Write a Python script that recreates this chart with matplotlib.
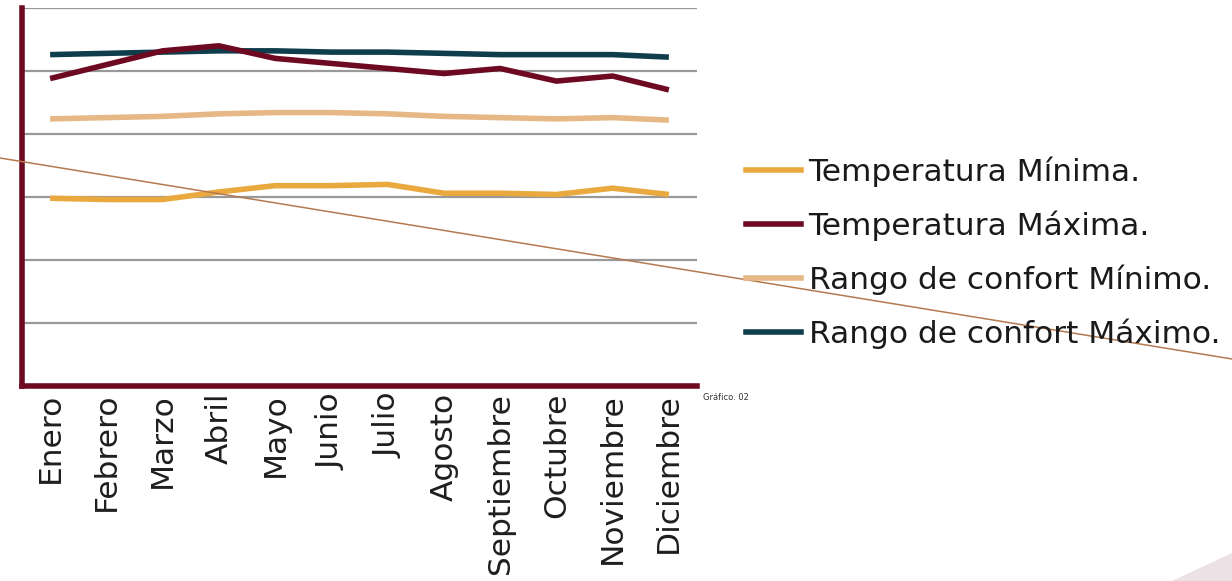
import matplotlib
matplotlib.use('Agg')
import matplotlib.pyplot as plt
from matplotlib.lines import Line2D
from matplotlib.patches import Polygon

meses = ['Enero', 'Febrero', 'Marzo', 'Abril', 'Mayo', 'Junio', 'Julio',
         'Agosto', 'Septiembre', 'Octubre', 'Noviembre', 'Diciembre']
temp_min = [14.9, 14.8, 14.8, 15.4, 15.9, 15.9, 16.0, 15.3, 15.3, 15.2, 15.7, 15.2]
temp_max = [24.4, 25.5, 26.6, 27.0, 26.0, 25.6, 25.2, 24.8, 25.2, 24.2, 24.6, 23.5]
confort_min = [21.2, 21.3, 21.4, 21.6, 21.7, 21.7, 21.6, 21.4, 21.3, 21.2, 21.3, 21.1]
confort_max = [26.3, 26.4, 26.5, 26.6, 26.6, 26.5, 26.5, 26.4, 26.3, 26.3, 26.3, 26.1]

W, H = 1232, 581
plt.rcParams['font.family'] = ['DejaVu Sans']
fig = plt.figure(figsize=(W / 100, H / 100), dpi=100)

# decoracion de fondo
bg = fig.add_axes([0, 0, 1, 1])
bg.set_xlim(0, W)
bg.set_ylim(H, 0)
bg.axis('off')
bg.add_patch(Polygon([[1172, 581], [1232, 553], [1232, 581]], closed=True,
                     facecolor='#ece1e4', edgecolor='none'))

ax = fig.add_axes([22 / W, (H - 386) / H, 675 / W, 378 / H])
ax.patch.set_alpha(0)
x = range(len(meses))
series = [
    (temp_min, '#eaa93f', 'Temperatura Mínima.'),
    (temp_max, '#6d0a22', 'Temperatura Máxima.'),
    (confort_min, '#e6b885', 'Rango de confort Mínimo.'),
    (confort_max, '#0f3d4c', 'Rango de confort Máximo.'),
]
for vals, col, lab in series[::-1]:
    ax.plot(x, vals, color=col, lw=4, label=lab, solid_capstyle='butt', zorder=3)

ax.set_xlim(-0.5, 11.5)
ax.set_ylim(0, 30)
ax.set_yticks([5, 10, 15, 20, 25, 30])
ax.set_yticklabels([])
ax.tick_params(axis='y', length=0)
ax.tick_params(axis='x', length=0, pad=5)
ax.grid(axis='y', color='#999999', lw=1.6, zorder=1)
ax.set_xticks(list(x))
ax.set_xticklabels(meses, rotation=90, fontsize=22.5, color='#1e1e1e', va='top')
for s in ['top', 'right']:
    ax.spines[s].set_visible(False)
for s in ['left', 'bottom']:
    ax.spines[s].set_color('#6d0a22')
    ax.spines[s].set_linewidth(4)

handles = [Line2D([], [], color=c, lw=4) for _, c, _ in series]
fig.legend(handles, [l for _, _, l in series], loc='center left',
           bbox_to_anchor=(718 / W, 1 - 253 / H), frameon=False,
           fontsize=22.5, handlelength=1.75, handletextpad=0.25, labelspacing=0.75,
           labelcolor='#1a1a1a')

fig.text(703 / W, 1 - 398 / H, 'Gráfico. 02', fontsize=6, color='#333333',
         va='center')

# linea diagonal decorativa
bg.plot([0, W], [158, 359], color='#b5794f', lw=1.1, zorder=10)
bg.set_zorder(5)

fig.savefig('out.png', dpi=100)
